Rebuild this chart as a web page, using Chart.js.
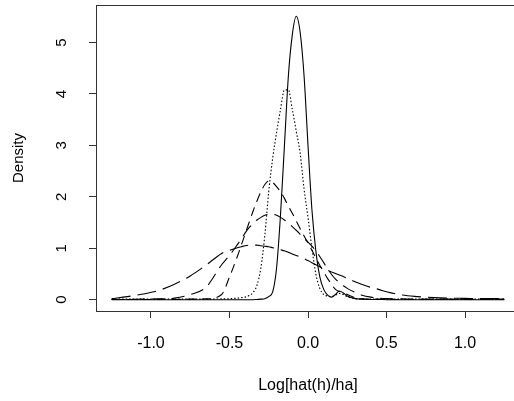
<!DOCTYPE html>
<html>
<head>
<meta charset="utf-8">
<script src="https://cdn.jsdelivr.net/npm/chart.js@4/dist/chart.umd.min.js"></script>
<style>
  html, body { margin: 0; padding: 0; background: #fff; overflow: hidden; }
  #wrap { width: 522px; height: 401px; }
</style>
</head>
<body>
<div id="wrap"><canvas id="densityChart" width="522" height="401"></canvas></div>
<script>
const xs = [-1.25, -1.15, -1.05, -0.95, -0.85, -0.75, -0.65, -0.55, -0.5, -0.45,
  -0.425, -0.4, -0.375, -0.35, -0.325, -0.3, -0.275, -0.25, -0.225, -0.2,
  -0.175, -0.15, -0.125, -0.1, -0.075, -0.05, -0.025, 0, 0.025, 0.05,
  0.075, 0.1, 0.125, 0.15, 0.175, 0.2, 0.225, 0.25, 0.3, 0.35,
  0.4, 0.45, 0.5, 0.6, 0.7, 0.8, 0.9, 1.0, 1.1, 1.25];

const solidDens = [0, 0, 0, 0, 0, 0, 0, 0, 0, 0,
  0, 0, 0, 0, 0.005, 0.01, 0.02, 0.06, 0.15, 0.62,
  1.65, 3.0, 4.35, 5.15, 5.51, 5.2, 4.35, 3.0, 1.75, 0.95,
  0.45, 0.2, 0.09, 0.05, 0.1, 0.17, 0.13, 0.07, 0.02, 0.01,
  0.005, 0.005, 0, 0, 0, 0, 0, 0, 0, 0];

const dottedDens = [0.01, 0.01, 0.01, 0.01, 0.01, 0.01, 0.01, 0.015, 0.02, 0.03,
  0.04, 0.05, 0.08, 0.14, 0.28, 0.62, 1.25, 2.1, 2.75, 3.25,
  3.7, 4.08, 4.08, 3.7, 3.28, 2.85, 2.15, 1.6, 1.0, 0.5,
  0.22, 0.1, 0.07, 0.06, 0.09, 0.12, 0.1, 0.06, 0.02, 0.01,
  0.01, 0.01, 0.01, 0.01, 0.01, 0.01, 0.01, 0.01, 0.01, 0.01];

const shortDashDens = [0.005, 0.005, 0.005, 0.005, 0.005, 0.01, 0.015, 0.1, 0.44, 0.84,
  1.06, 1.28, 1.5, 1.72, 1.92, 2.1, 2.24, 2.31, 2.28, 2.2,
  2.1, 1.97, 1.82, 1.68, 1.53, 1.38, 1.24, 1.1, 0.96, 0.81,
  0.67, 0.54, 0.41, 0.3, 0.2, 0.16, 0.14, 0.1, 0.04, 0.015,
  0.01, 0.01, 0.005, 0.005, 0.005, 0.005, 0.005, 0.005, 0.005, 0.005];

const midDashDens = [0.005, 0.005, 0.01, 0.015, 0.03, 0.1, 0.24, 0.68, 0.86, 1.07,
  1.18, 1.3, 1.4, 1.48, 1.55, 1.6, 1.64, 1.66, 1.66, 1.64,
  1.6, 1.55, 1.49, 1.42, 1.35, 1.27, 1.19, 1.12, 1.04, 0.95,
  0.84, 0.72, 0.6, 0.49, 0.4, 0.33, 0.27, 0.22, 0.14, 0.08,
  0.05, 0.03, 0.02, 0.015, 0.01, 0.01, 0.01, 0.01, 0.01, 0.01];

const longDashDens = [0.02, 0.06, 0.11, 0.18, 0.3, 0.46, 0.67, 0.9, 0.96, 1.01,
  1.03, 1.05, 1.06, 1.06, 1.06, 1.05, 1.04, 1.03, 1.01, 0.99,
  0.97, 0.95, 0.92, 0.89, 0.86, 0.83, 0.8, 0.76, 0.72, 0.68,
  0.64, 0.6, 0.57, 0.54, 0.51, 0.48, 0.45, 0.41, 0.35, 0.29,
  0.24, 0.2, 0.155, 0.09, 0.06, 0.04, 0.03, 0.025, 0.02, 0.02];

const xTicks = [-1.0, -0.5, 0.0, 0.5, 1.0];
const yTicks = [0, 1, 2, 3, 4, 5];

const FONT = '"Liberation Sans", Arial, Helvetica, sans-serif';

function series(vals, dash) {
    return {
        data: xs.map((x, i) => ({ x: x, y: vals[i] })),
        showLine: true,
        borderColor: '#000',
        borderWidth: 1.1,
        borderDash: dash,
        pointRadius: 0,
        cubicInterpolationMode: 'monotone',
        fill: false
    };
}

// R-style box round the plot area plus rotated y tick labels
const boxPlugin = {
    id: 'rbox',
    afterDraw(chart) {
        const ctx = chart.ctx;
        const a = chart.chartArea;
        const y = chart.scales.y;
        ctx.save();
        ctx.strokeStyle = '#333';
        ctx.lineWidth = 1;
        ctx.setLineDash([]);
        ctx.strokeRect(Math.round(a.left) + 0.5, Math.round(a.top) + 0.5,
            Math.round(a.right - a.left), Math.round(a.bottom - a.top));
        ctx.fillStyle = '#000';
        ctx.font = '15px ' + FONT;
        ctx.textAlign = 'center';
        ctx.textBaseline = 'middle';
        yTicks.forEach(v => {
            ctx.save();
            ctx.translate(62, y.getPixelForValue(v));
            ctx.rotate(-Math.PI / 2);
            ctx.fillText(String(v), 0, 0);
            ctx.restore();
        });
        ctx.restore();
    }
};

new Chart(document.getElementById('densityChart'), {
    type: 'scatter',
    data: {
        datasets: [
            series(solidDens, []),
            series(dottedDens, [1.5, 2]),
            series(shortDashDens, [9, 6]),
            series(midDashDens, [13, 7]),
            series(longDashDens, [19, 7])
        ]
    },
    options: {
        responsive: false,
        animation: false,
        devicePixelRatio: 1,
        layout: { padding: { left: 0, top: 5, right: 2, bottom: 0 } },
        plugins: { legend: { display: false }, tooltip: { enabled: false } },
        scales: {
            x: {
                type: 'linear',
                min: -1.35,
                max: 1.35,
                afterBuildTicks: s => { s.ticks = xTicks.map(v => ({ value: v })); },
                afterFit: s => { s.height = 90; },
                border: { display: false },
                grid: { drawOnChartArea: false, drawTicks: true, tickLength: 7, color: '#333' },
                ticks: {
                    color: '#000',
                    padding: 16,
                    maxRotation: 0,
                    font: { family: FONT, size: 16 },
                    callback: v => v.toFixed(1)
                },
                title: {
                    display: true,
                    text: 'Log[hat(h)/ha]',
                    color: '#000',
                    font: { family: FONT, size: 16 },
                    padding: { top: 0, bottom: 6 }
                }
            },
            y: {
                type: 'linear',
                min: -0.22,
                max: 5.73,
                afterBuildTicks: s => { s.ticks = yTicks.map(v => ({ value: v })); },
                afterFit: s => { s.width = 96; },
                border: { display: false },
                grid: { drawOnChartArea: false, drawTicks: true, tickLength: 7, color: '#333' },
                ticks: { display: false },
                title: {
                    display: true,
                    text: 'Density',
                    color: '#000',
                    font: { family: FONT, size: 15 },
                    padding: { top: 10, bottom: 0 }
                }
            }
        }
    },
    plugins: [boxPlugin]
});
</script>
</body>
</html>
